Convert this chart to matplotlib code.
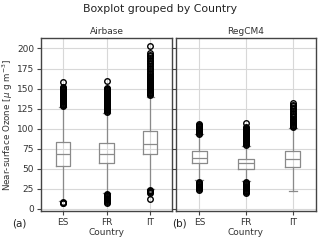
import numpy as np
import matplotlib
matplotlib.use("Agg")
import matplotlib.pyplot as plt

countries = ["ES", "FR", "IT"]
panels = ["Airbase", "RegCM4"]
panel_tags = ["(a)", "(b)"]

# box summary values: [ES, FR, IT]
air_q1 = [54, 57, 68]
air_med = [68, 69, 81]
air_q3 = [84, 82, 97]
air_lo = [10, 20, 25]
air_hi = [127, 120, 140]
air_fliers = [
    [7, 8, 9, 128, 129, 130, 131, 132, 133, 134, 135, 136, 137, 138, 139, 140, 141,
     142, 143, 144, 145, 146, 147, 148, 149, 150, 151, 152, 158],
    [8, 9, 10, 11, 12, 13, 14, 15, 16, 17, 18, 19, 121, 122, 123, 124, 125, 126, 127,
     128, 129, 130, 131, 132, 133, 134, 135, 136, 137, 138, 139, 140, 141, 142, 143,
     144, 145, 146, 147, 148, 149, 150, 151, 159],
    [13, 20, 21, 22, 23, 24, 142, 143, 144, 145, 146, 147, 148, 149, 150, 151, 152,
     153, 154, 155, 156, 157, 158, 159, 160, 161, 162, 163, 164, 165, 166, 168, 170,
     172, 174, 176, 178, 180, 182, 184, 186, 188, 190, 192, 194, 203],
]

reg_q1 = [57, 50, 52]
reg_med = [64, 57, 62]
reg_q3 = [72, 62, 72]
reg_lo = [36, 35, 23]
reg_hi = [93, 79, 101]
reg_fliers = [
    [24, 25, 26, 27, 28, 29, 30, 31, 32, 33, 34, 94, 95, 96, 97, 98, 99, 100, 101,
     102, 103, 104, 105, 106],
    [20, 21, 22, 23, 24, 25, 26, 27, 28, 29, 30, 31, 32, 33, 34, 80, 81, 82, 83, 84,
     85, 86, 87, 88, 89, 90, 91, 92, 93, 94, 95, 96, 97, 98, 99, 100, 101, 102, 107],
    [102, 103, 104, 105, 106, 107, 108, 109, 110, 111, 112, 114, 116, 118, 120, 122,
     124, 126, 128, 130, 132],
]


def make_stats(q1, med, q3, lo, hi, fliers):
    stats = []
    for i in range(len(q1)):
        stats.append({"q1": q1[i], "med": med[i], "q3": q3[i],
                      "whislo": lo[i], "whishi": hi[i],
                      "fliers": np.array(fliers[i])})
    return stats


data = [make_stats(air_q1, air_med, air_q3, air_lo, air_hi, air_fliers),
        make_stats(reg_q1, reg_med, reg_q3, reg_lo, reg_hi, reg_fliers)]

fig = plt.figure(figsize=(3.2, 2.41), dpi=100)
gray = "#8a8a8a"
for k in range(2):
    left = 41 / 320 if k == 0 else 176 / 320
    width = 131 / 320 if k == 0 else 140 / 320
    ax = fig.add_axes([left, 1 - 211 / 241, width, 173 / 241])
    ax.bxp(data[k], positions=[1, 2, 3], widths=0.33, showfliers=True,
           boxprops=dict(color=gray, linewidth=0.9),
           whiskerprops=dict(color=gray, linewidth=0.9),
           capprops=dict(color=gray, linewidth=0.9),
           medianprops=dict(color=gray, linewidth=0.9),
           flierprops=dict(marker="o", markersize=4, markerfacecolor="none",
                           markeredgecolor="black", markeredgewidth=1.0))
    ax.set_ylim(-2.5, 213)
    ax.set_xlim(0.5, 3.5)
    ax.set_yticks(np.arange(0, 201, 25))
    ax.set_xticks([1, 2, 3])
    ax.set_xticklabels(countries)
    ax.grid(True, color="#d8d8d8", linewidth=0.8)
    ax.set_axisbelow(True)
    ax.tick_params(labelsize=6.5, length=3, color="#444444", labelcolor="#333333", pad=2)
    for sp in ax.spines.values():
        sp.set_color("#444444")
        sp.set_linewidth(1.0)
    ax.set_title(panels[k], fontsize=6.5, pad=3, color="#333333")
    ax.set_xlabel("Country", fontsize=6.5, labelpad=1, color="#333333")
    if k == 0:
        ax.set_ylabel(r"Near-surface Ozone [$\mu$ g m$^{-3}$]", fontsize=6.3,
                      labelpad=1, color="#333333")
    else:
        ax.set_yticklabels([])
    fig.text(left - (29 if k == 0 else 4) / 320, 1 - 224 / 241, panel_tags[k],
             fontsize=7.5, va="center", color="#222222")

fig.suptitle("Boxplot grouped by Country", fontsize=7.8, y=0.985, color="#222222")
fig.savefig("out.png", dpi=100)
